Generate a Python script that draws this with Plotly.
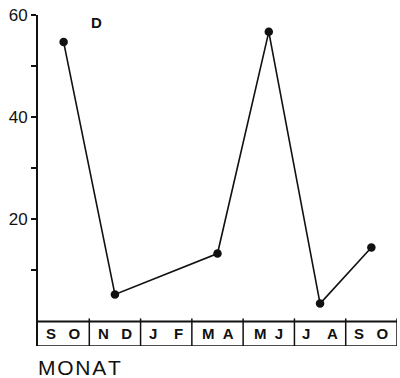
import plotly.graph_objects as go

months = ["S\u00a0\u00a0\u00a0O", "N\u00a0\u00a0\u00a0D", "J\u00a0\u00a0\u00a0\u00a0F", "M\u00a0\u00a0A", "M\u00a0\u00a0J", "J\u00a0\u00a0\u00a0\u00a0A", "S\u00a0\u00a0\u00a0O"]
values = [54.7, 5.3, None, 13.3, 56.7, 3.5, 14.5]
y_tickvals = [10, 20, 30, 40, 50, 60]
y_ticktext = ["", "20", "", "40", "", "60"]

BOX_BOTTOM = -4.8
xs = [i + 0.5 for i in range(len(months))]

fig = go.Figure()
fig.add_trace(go.Scatter(
    x=xs, y=values, mode="lines+markers", connectgaps=True,
    line=dict(color="#111", width=1.6),
    marker=dict(color="#111", size=8.5),
    showlegend=False, hoverinfo="skip"))

shapes = []
n = len(months)
shapes.append(dict(type="line", xref="x", yref="y", x0=0, x1=n, y0=0, y1=0,
                   line=dict(color="#111", width=2)))
shapes.append(dict(type="line", xref="x", yref="y", x0=0, x1=n, y0=BOX_BOTTOM, y1=BOX_BOTTOM,
                   line=dict(color="#111", width=1.5)))
for i in range(1, n + 1):
    shapes.append(dict(type="line", xref="x", yref="y", x0=i, x1=i, y0=BOX_BOTTOM, y1=0.6,
                       line=dict(color="#111", width=1.5)))
fig.update_layout(shapes=shapes)

for i, m in enumerate(months):
    fig.add_annotation(x=i + 0.5, y=BOX_BOTTOM / 2, xref="x", yref="y", text=m,
                       showarrow=False,
                       font=dict(family="Liberation Sans, Arial", size=15, color="#111", weight="bold"))

fig.add_annotation(xref="paper", yref="paper", x=(96 - 38) / 359, y=1 - (22 - 15) / 331,
                   xanchor="center", yanchor="middle",
                   text="D", showarrow=False,
                   font=dict(family="Liberation Sans, Arial", size=15, color="#111", weight="bold"))
fig.add_annotation(xref="paper", yref="paper", x=-0.005, y=(346 - 354) / 331,
                   xanchor="left", yanchor="top",
                   text="M\u200aO\u200aN\u200aA\u200aT", showarrow=False,
                   font=dict(family="Liberation Sans, Arial", size=21, color="#111"))

fig.update_xaxes(range=[0, n], visible=False, showgrid=False, zeroline=False)
fig.update_yaxes(range=[BOX_BOTTOM, 60], showgrid=False, zeroline=False,
                 showline=True, linecolor="#111", linewidth=2,
                 ticks="outside", ticklen=5, tickwidth=2, tickcolor="#111",
                 tickvals=y_tickvals, ticktext=y_ticktext,
                 tickfont=dict(family="Liberation Sans, Arial", size=17, color="#111"))

fig.update_layout(width=400, height=378, margin=dict(l=38, r=3, t=15, b=32),
                  plot_bgcolor="white", paper_bgcolor="white")
fig.write_html("out.html")
